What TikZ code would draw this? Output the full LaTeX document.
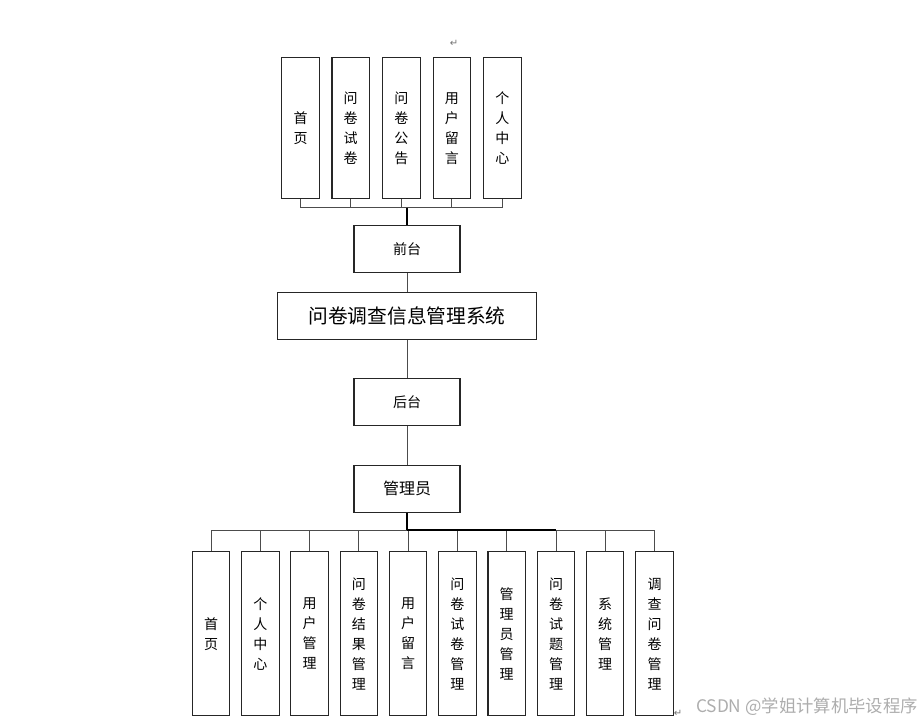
\documentclass[tikz,border=0pt]{standalone}
\usepackage{fontspec}
\setmainfont{Noto Sans CJK SC}
\newfontfamily\symfont{DejaVu Sans}
\begin{document}
\begin{tikzpicture}[x=0.75pt,y=-0.75pt,
  vbox/.style={draw=black!85,line width=0.8pt,minimum width=28.1pt,inner sep=0pt,align=center,font=\fontsize{10.5}{15}\selectfont},
  topbox/.style={vbox,minimum height=105.75pt},
  botbox/.style={vbox,minimum height=123pt},
  hbox/.style={draw=black!85,line width=0.8pt,minimum width=79.5pt,minimum height=35.25pt,inner sep=0pt,font=\fontsize{10.5}{12}\selectfont},
  conn/.style={draw=black!70,line width=0.7pt},
  thick conn/.style={draw=black,line width=1.4pt},
  pmark/.style={font=\symfont\fontsize{7.5}{7.5}\selectfont,text=black!55,inner sep=0pt}]
\useasboundingbox (0,0) rectangle (922,722);
% top boxes
\node[topbox] (t1) at (300.5,128.3) {首\\页};
\node[topbox] (t2) at (350.7,128.3) {问\\卷\\试\\卷};
\node[topbox] (t3) at (401.3,128.3) {问\\卷\\公\\告};
\node[topbox] (t4) at (451.8,128.3) {用\\户\\留\\言};
\node[topbox] (t5) at (502.3,128.3) {个\\人\\中\\心};
% middle column
\node[hbox] (qian) at (407,249) {前台};
\node[hbox,minimum width=193.7pt,minimum height=35pt,font=\fontsize{14.8}{16}\selectfont] (sys) at (407,316) {问卷调查信息管理系统};
\node[hbox] (hou) at (407,402.3) {后台};
\node[hbox,font=\fontsize{12}{14}\selectfont] (adm) at (407,488.7) {管理员};
% bottom boxes
\node[botbox] (b1) at (211.1,633.7) {首\\页};
\node[botbox] (b2) at (260.4,633.7) {个\\人\\中\\心};
\node[botbox] (b3) at (309.6,633.7) {用\\户\\管\\理};
\node[botbox] (b4) at (358.9,633.7) {问\\卷\\结\\果\\管\\理};
\node[botbox] (b5) at (408.2,633.7) {用\\户\\留\\言};
\node[botbox] (b6) at (457.4,633.7) {问\\卷\\试\\卷\\管\\理};
\node[botbox] (b7) at (506.7,633.7) {管\\理\\员\\管\\理};
\node[botbox] (b8) at (556.0,633.7) {问\\卷\\试\\题\\管\\理};
\node[botbox] (b9) at (605.2,633.7) {系\\统\\管\\理};
\node[botbox] (b10) at (654.5,633.7) {调\\查\\问\\卷\\管\\理};
% top connectors
\coordinate (tbar) at (407,207.7);
\draw[conn] (t1.south) -- (t1.south |- tbar) -- (t5.south |- tbar) -- (t5.south);
\foreach \n in {t2,t3,t4} \draw[conn] (\n.south) -- (\n.south |- tbar);
\draw[thick conn] (tbar) -- (qian.north);
\draw[conn] (qian.south) -- (sys.north);
\draw[conn] (sys.south) -- (hou.north);
\draw[conn] (hou.south) -- (adm.north);
% bottom connectors
\coordinate (bbar) at (407,530);
\draw[conn] (b1.north) -- (b1.north |- bbar) -- (b10.north |- bbar) -- (b10.north);
\foreach \n in {b2,b3,b4,b5,b6,b7,b8,b9} \draw[conn] (\n.north) -- (\n.north |- bbar);
\draw[thick conn] (adm.south) -- (bbar);
\draw[line width=1.2pt] (bbar) -- (b8.north |- bbar);
% paragraph marks and watermark
\node[pmark] (pm1) at (454,43) {↵};
\node[pmark] (pm2) at (678,713) {↵};
\node[font=\fontsize{13}{15}\selectfont,text=black!32,anchor=east,inner sep=0pt] (wm) at (918,707) {CSDN @学姐计算机毕设程序};
\end{tikzpicture}
\end{document}
